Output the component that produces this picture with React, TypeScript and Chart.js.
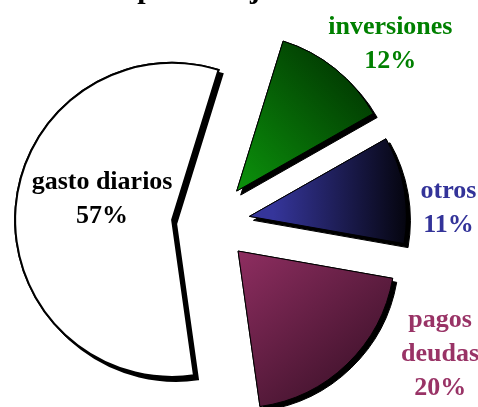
import React, { useEffect, useRef } from 'react';
import { Chart, registerables } from 'chart.js';

Chart.register(...registerables);

// ---- data ----
const titleText = 'porcentajes';
const categories = ['gasto diarios', 'inversiones', 'otros', 'pagos deudas'];
const categoryLines = [['gasto diarios'], ['inversiones'], ['otros'], ['pagos', 'deudas']];
const percentages = [57, 12, 11, 20];

// ---- styles ----
const labelColors = ['#000000', '#008000', '#333399', '#993366'];
const explodeDist = [39, 41, 39, 39];
// label placement: [angle nudge (deg) from slice bisector, distance from pie center (px)]
const labelPlacement = [
  [8.8, 112],
  [5.9, 255],
  [5.8, 238],
  [-16.6, 263],
];
const gradientSpecs: (null | { from: number[]; to: number[]; c0: string; c1: string })[] = [
  null,
  { from: [0.1, 0.0], to: [0.9, -0.78], c0: '#0b8d0b', c1: '#003000' },
  { from: [0.15, 0], to: [1.0, 0], c0: '#35359a', c1: '#05050f' },
  { from: [0.05, 0.0], to: [0.75, 0.85], c0: '#8c2d5f', c1: '#42132d' },
];
const solidColors = ['#ffffff', '#006400', '#22226a', '#6e2349'];
const RADIUS = 157;
const TOP_SHIFT = 28;
const CANVAS_W = 478;
const CANVAS_H = 466;
const FONT = "'Liberation Serif', 'Times New Roman', serif";

const explodePlugin = {
  id: 'explodeShadow',
  beforeDatasetDraw(chart: any, args: any) {
    const meta = args.meta;
    const ctx = chart.ctx;
    [true, false].forEach((withShadow) => {
      meta.data.forEach((arc: any, i: number) => {
        const mid = (arc.startAngle + arc.endAngle) / 2;
        const d = explodeDist[i] || 0;
        ctx.save();
        ctx.translate(Math.cos(mid) * d, Math.sin(mid) * d);
        if (withShadow) {
          ctx.shadowColor = '#000000';
          ctx.shadowOffsetX = 4;
          ctx.shadowOffsetY = 4;
          ctx.shadowBlur = 0;
        }
        arc.draw(ctx, chart.chartArea);
        ctx.restore();
      });
    });
    return false;
  },
};

const labelPlugin = {
  id: 'sliceLabels',
  afterDatasetsDraw(chart: any) {
    const meta = chart.getDatasetMeta(0);
    const ctx = chart.ctx;
    const size = 26;
    const lh = 34;
    ctx.save();
    ctx.font = `bold ${size}px ${FONT}`;
    ctx.textAlign = 'center';
    ctx.textBaseline = 'alphabetic';
    meta.data.forEach((arc: any, i: number) => {
      const [nudge, dist] = labelPlacement[i];
      const a = (arc.startAngle + arc.endAngle) / 2 + (nudge * Math.PI) / 180;
      const x = arc.x + Math.cos(a) * dist;
      const y = arc.y + Math.sin(a) * dist;
      const lines = [...categoryLines[i], `${percentages[i]}%`];
      const n = lines.length;
      ctx.fillStyle = labelColors[i];
      lines.forEach((t, k) => {
        const by = y + (k - (n - 1) / 2) * lh + size * 0.34;
        ctx.fillText(t, x, by);
      });
    });
    ctx.restore();
  },
};

export default function App() {
  const ref = useRef<HTMLCanvasElement>(null);
  useEffect(() => {
    if (!ref.current) return;
    const chart = new Chart(ref.current, {
      type: 'pie',
      data: {
        labels: categories,
        datasets: [
          {
            data: percentages,
            backgroundColor: (c: any) => {
              const i = c.dataIndex;
              const spec = gradientSpecs[i];
              const area = c.chart.chartArea;
              if (!spec || !area) return solidColors[i];
              const cx = (area.left + area.right) / 2;
              const cy = (area.top + area.bottom) / 2;
              const g = c.chart.ctx.createLinearGradient(
                cx + spec.from[0] * RADIUS,
                cy + spec.from[1] * RADIUS,
                cx + spec.to[0] * RADIUS,
                cy + spec.to[1] * RADIUS
              );
              g.addColorStop(0, spec.c0);
              g.addColorStop(1, spec.c1);
              return g;
            },
            borderColor: '#000000',
            borderWidth: [2, 1, 1, 1],
            borderJoinStyle: 'miter',
          } as any,
        ],
      },
      options: {
        animation: false,
        responsive: false,
        maintainAspectRatio: false,
        events: [],
        rotation: 172,
        radius: RADIUS,
        layout: { padding: { left: 0, right: 56, top: 0, bottom: 0 } },
        plugins: {
          legend: { display: false },
          tooltip: { enabled: false },
          title: {
            display: true,
            text: titleText,
            color: '#000000',
            font: { family: FONT, size: 30, weight: 'bold' },
            padding: 0,
          },
        },
      } as any,
      plugins: [explodePlugin, labelPlugin],
    });
    return () => chart.destroy();
  }, []);
  return (
    <div style={{ position: 'absolute', left: 0, top: 0, width: 478, height: 407, overflow: 'hidden', background: '#fff' }}>
      <div style={{ position: 'absolute', left: 0, top: -TOP_SHIFT, width: CANVAS_W, height: CANVAS_H }}>
        <canvas ref={ref} width={CANVAS_W} height={CANVAS_H} style={{ width: CANVAS_W, height: CANVAS_H, display: 'block' }} />
      </div>
    </div>
  );
}
